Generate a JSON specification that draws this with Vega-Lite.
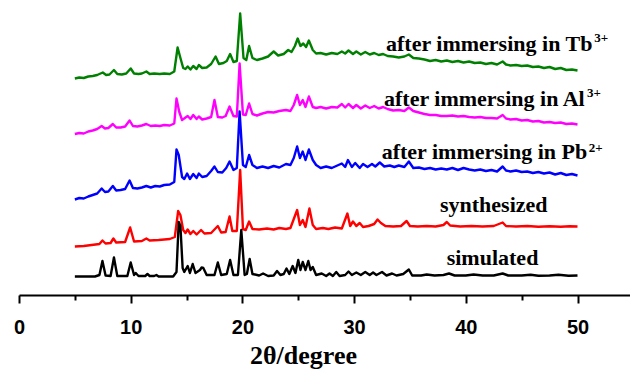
{
"$schema":"https://vega.github.io/schema/vega-lite/v6.json",
"width":611,"height":295,
"autosize":{"type":"none"},
"padding":{"left":19,"top":0,"right":0,"bottom":76},
"background":"white",
"config":{"view":{"stroke":null}},
"title":{"text":"2θ/degree","orient":"bottom","anchor":"middle","font":"Liberation Serif","fontSize":26,"fontWeight":"bold","color":"#000","dx":-21,"offset":6},
"datasets":{
"xrd":[
{"s":"Tb","x":5.0,"y":216.5},{"s":"Tb","x":5.4,"y":217.5},{"s":"Tb","x":5.8,"y":217},{"s":"Tb","x":6.2,"y":218.5},{"s":"Tb","x":6.6,"y":219},{"s":"Tb","x":7.0,"y":220},{"s":"Tb","x":7.5,"y":222.5},{"s":"Tb","x":7.8,"y":220},{"s":"Tb","x":8.1,"y":220.5},{"s":"Tb","x":8.5,"y":225},{"s":"Tb","x":8.8,"y":221},{"s":"Tb","x":9.2,"y":220.5},{"s":"Tb","x":9.6,"y":221.5},{"s":"Tb","x":10.0,"y":226.5},{"s":"Tb","x":10.3,"y":221.5},{"s":"Tb","x":10.7,"y":221},{"s":"Tb","x":11.0,"y":221.5},{"s":"Tb","x":11.4,"y":223.5},{"s":"Tb","x":11.7,"y":221},{"s":"Tb","x":12.1,"y":221.5},{"s":"Tb","x":12.6,"y":221},{"s":"Tb","x":13.0,"y":221.5},{"s":"Tb","x":13.5,"y":221},{"s":"Tb","x":13.9,"y":223.5},{"s":"Tb","x":14.2,"y":247.5},{"s":"Tb","x":14.45,"y":237},{"s":"Tb","x":14.7,"y":227},{"s":"Tb","x":14.9,"y":226},{"s":"Tb","x":15.1,"y":228.5},{"s":"Tb","x":15.35,"y":225.5},{"s":"Tb","x":15.6,"y":229},{"s":"Tb","x":15.9,"y":226},{"s":"Tb","x":16.1,"y":230},{"s":"Tb","x":16.4,"y":227},{"s":"Tb","x":16.8,"y":227.5},{"s":"Tb","x":17.2,"y":231},{"s":"Tb","x":17.6,"y":238.5},{"s":"Tb","x":17.9,"y":231},{"s":"Tb","x":18.3,"y":232},{"s":"Tb","x":18.6,"y":234},{"s":"Tb","x":18.9,"y":241},{"s":"Tb","x":19.2,"y":233},{"s":"Tb","x":19.5,"y":234},{"s":"Tb","x":19.8,"y":281.5},{"s":"Tb","x":20.1,"y":237},{"s":"Tb","x":20.35,"y":235},{"s":"Tb","x":20.6,"y":249},{"s":"Tb","x":20.9,"y":237},{"s":"Tb","x":21.3,"y":235},{"s":"Tb","x":21.8,"y":236.5},{"s":"Tb","x":22.3,"y":238.5},{"s":"Tb","x":22.8,"y":243.5},{"s":"Tb","x":23.2,"y":239.5},{"s":"Tb","x":23.7,"y":241},{"s":"Tb","x":24.1,"y":245},{"s":"Tb","x":24.4,"y":243},{"s":"Tb","x":24.7,"y":249},{"s":"Tb","x":24.95,"y":256.5},{"s":"Tb","x":25.2,"y":249},{"s":"Tb","x":25.45,"y":251.5},{"s":"Tb","x":25.7,"y":248},{"s":"Tb","x":25.95,"y":254.5},{"s":"Tb","x":26.3,"y":245},{"s":"Tb","x":26.6,"y":241.5},{"s":"Tb","x":27.0,"y":242},{"s":"Tb","x":27.5,"y":240.5},{"s":"Tb","x":28.0,"y":242},{"s":"Tb","x":28.5,"y":241},{"s":"Tb","x":28.9,"y":243.5},{"s":"Tb","x":29.2,"y":241.5},{"s":"Tb","x":29.5,"y":244.5},{"s":"Tb","x":29.9,"y":241},{"s":"Tb","x":30.2,"y":243.5},{"s":"Tb","x":30.6,"y":240.5},{"s":"Tb","x":31.0,"y":243},{"s":"Tb","x":31.4,"y":240.5},{"s":"Tb","x":31.8,"y":242},{"s":"Tb","x":32.2,"y":240},{"s":"Tb","x":32.6,"y":241},{"s":"Tb","x":33.0,"y":239},{"s":"Tb","x":33.5,"y":238.5},{"s":"Tb","x":34.0,"y":237.5},{"s":"Tb","x":34.5,"y":238.5},{"s":"Tb","x":34.9,"y":240.5},{"s":"Tb","x":35.3,"y":237},{"s":"Tb","x":35.8,"y":236.5},{"s":"Tb","x":36.3,"y":235.5},{"s":"Tb","x":36.8,"y":234},{"s":"Tb","x":37.3,"y":235},{"s":"Tb","x":37.8,"y":233.5},{"s":"Tb","x":38.3,"y":234.5},{"s":"Tb","x":38.8,"y":233},{"s":"Tb","x":39.3,"y":234},{"s":"Tb","x":39.8,"y":232.5},{"s":"Tb","x":40.3,"y":233.5},{"s":"Tb","x":40.8,"y":232},{"s":"Tb","x":41.3,"y":232.5},{"s":"Tb","x":41.8,"y":231},{"s":"Tb","x":42.3,"y":232},{"s":"Tb","x":42.8,"y":230.5},{"s":"Tb","x":43.3,"y":233.5},{"s":"Tb","x":43.6,"y":230.5},{"s":"Tb","x":44.0,"y":229.5},{"s":"Tb","x":44.5,"y":230},{"s":"Tb","x":45.0,"y":229},{"s":"Tb","x":45.5,"y":229.5},{"s":"Tb","x":46.0,"y":228},{"s":"Tb","x":46.5,"y":228.5},{"s":"Tb","x":47.0,"y":227},{"s":"Tb","x":47.5,"y":228},{"s":"Tb","x":48.0,"y":226},{"s":"Tb","x":48.5,"y":227},{"s":"Tb","x":49.0,"y":225},{"s":"Tb","x":49.5,"y":225.5},{"s":"Tb","x":50.0,"y":224.5},
{"s":"Al","x":5.0,"y":161},{"s":"Al","x":5.4,"y":162},{"s":"Al","x":5.8,"y":161.5},{"s":"Al","x":6.2,"y":163.5},{"s":"Al","x":6.6,"y":164.5},{"s":"Al","x":7.0,"y":166},{"s":"Al","x":7.4,"y":169},{"s":"Al","x":7.7,"y":166.5},{"s":"Al","x":8.0,"y":167},{"s":"Al","x":8.4,"y":171},{"s":"Al","x":8.7,"y":167.5},{"s":"Al","x":9.1,"y":167.5},{"s":"Al","x":9.5,"y":168.5},{"s":"Al","x":9.9,"y":174.5},{"s":"Al","x":10.2,"y":169},{"s":"Al","x":10.6,"y":168.5},{"s":"Al","x":11.0,"y":169.5},{"s":"Al","x":11.4,"y":171},{"s":"Al","x":11.8,"y":169},{"s":"Al","x":12.2,"y":169.5},{"s":"Al","x":12.6,"y":169},{"s":"Al","x":13.0,"y":170},{"s":"Al","x":13.5,"y":169.5},{"s":"Al","x":13.9,"y":171.5},{"s":"Al","x":14.1,"y":196.5},{"s":"Al","x":14.35,"y":183},{"s":"Al","x":14.6,"y":175},{"s":"Al","x":14.85,"y":177},{"s":"Al","x":15.1,"y":179},{"s":"Al","x":15.35,"y":176},{"s":"Al","x":15.6,"y":180},{"s":"Al","x":15.9,"y":176},{"s":"Al","x":16.1,"y":178.5},{"s":"Al","x":16.4,"y":175.5},{"s":"Al","x":16.8,"y":176.5},{"s":"Al","x":17.2,"y":178},{"s":"Al","x":17.5,"y":195},{"s":"Al","x":17.8,"y":178},{"s":"Al","x":18.2,"y":177.5},{"s":"Al","x":18.5,"y":179},{"s":"Al","x":18.85,"y":188.5},{"s":"Al","x":19.2,"y":179},{"s":"Al","x":19.5,"y":178.5},{"s":"Al","x":19.75,"y":231.5},{"s":"Al","x":20.05,"y":180.5},{"s":"Al","x":20.3,"y":180},{"s":"Al","x":20.6,"y":191.5},{"s":"Al","x":20.9,"y":181},{"s":"Al","x":21.3,"y":179.5},{"s":"Al","x":21.8,"y":181.5},{"s":"Al","x":22.3,"y":183},{"s":"Al","x":22.8,"y":182.5},{"s":"Al","x":23.3,"y":184},{"s":"Al","x":23.9,"y":185},{"s":"Al","x":24.3,"y":184},{"s":"Al","x":24.6,"y":190},{"s":"Al","x":24.9,"y":200},{"s":"Al","x":25.15,"y":190},{"s":"Al","x":25.4,"y":195},{"s":"Al","x":25.65,"y":188},{"s":"Al","x":25.95,"y":198.5},{"s":"Al","x":26.3,"y":188},{"s":"Al","x":26.6,"y":187},{"s":"Al","x":27.0,"y":188},{"s":"Al","x":27.5,"y":186.5},{"s":"Al","x":28.0,"y":188},{"s":"Al","x":28.5,"y":187.5},{"s":"Al","x":28.9,"y":191},{"s":"Al","x":29.2,"y":187.5},{"s":"Al","x":29.5,"y":191},{"s":"Al","x":29.9,"y":187},{"s":"Al","x":30.2,"y":190},{"s":"Al","x":30.6,"y":186.5},{"s":"Al","x":31.0,"y":189.5},{"s":"Al","x":31.4,"y":187},{"s":"Al","x":31.8,"y":189},{"s":"Al","x":32.2,"y":186.5},{"s":"Al","x":32.6,"y":188},{"s":"Al","x":33.0,"y":186},{"s":"Al","x":33.5,"y":184.5},{"s":"Al","x":34.0,"y":185},{"s":"Al","x":34.5,"y":184},{"s":"Al","x":34.9,"y":187.5},{"s":"Al","x":35.3,"y":184},{"s":"Al","x":35.8,"y":182.5},{"s":"Al","x":36.3,"y":181},{"s":"Al","x":36.8,"y":180},{"s":"Al","x":37.3,"y":180},{"s":"Al","x":37.8,"y":179},{"s":"Al","x":38.3,"y":179},{"s":"Al","x":38.8,"y":179.5},{"s":"Al","x":39.3,"y":178.5},{"s":"Al","x":39.8,"y":179},{"s":"Al","x":40.3,"y":178},{"s":"Al","x":40.8,"y":177.5},{"s":"Al","x":41.3,"y":178},{"s":"Al","x":41.8,"y":177},{"s":"Al","x":42.3,"y":177},{"s":"Al","x":42.8,"y":176.5},{"s":"Al","x":43.3,"y":180},{"s":"Al","x":43.6,"y":176.5},{"s":"Al","x":44.0,"y":175.5},{"s":"Al","x":44.5,"y":176},{"s":"Al","x":45.0,"y":174.5},{"s":"Al","x":45.5,"y":175},{"s":"Al","x":46.0,"y":173.5},{"s":"Al","x":46.5,"y":174},{"s":"Al","x":47.0,"y":172.5},{"s":"Al","x":47.5,"y":173},{"s":"Al","x":48.0,"y":172},{"s":"Al","x":48.5,"y":172.5},{"s":"Al","x":49.0,"y":171},{"s":"Al","x":49.5,"y":171.5},{"s":"Al","x":50.0,"y":170.5},
{"s":"Pb","x":5.0,"y":95.5},{"s":"Pb","x":5.4,"y":97},{"s":"Pb","x":5.8,"y":96.5},{"s":"Pb","x":6.2,"y":98.5},{"s":"Pb","x":6.6,"y":100},{"s":"Pb","x":7.0,"y":101.5},{"s":"Pb","x":7.4,"y":106.5},{"s":"Pb","x":7.7,"y":103},{"s":"Pb","x":8.0,"y":103.5},{"s":"Pb","x":8.4,"y":109},{"s":"Pb","x":8.7,"y":104.5},{"s":"Pb","x":9.1,"y":105},{"s":"Pb","x":9.5,"y":106},{"s":"Pb","x":9.9,"y":114.5},{"s":"Pb","x":10.2,"y":107},{"s":"Pb","x":10.6,"y":106.5},{"s":"Pb","x":11.0,"y":107.5},{"s":"Pb","x":11.4,"y":109},{"s":"Pb","x":11.8,"y":107.5},{"s":"Pb","x":12.2,"y":109},{"s":"Pb","x":12.6,"y":108.5},{"s":"Pb","x":13.0,"y":110},{"s":"Pb","x":13.5,"y":110.5},{"s":"Pb","x":13.9,"y":113},{"s":"Pb","x":14.1,"y":145.5},{"s":"Pb","x":14.3,"y":140},{"s":"Pb","x":14.6,"y":118},{"s":"Pb","x":14.8,"y":116},{"s":"Pb","x":15.05,"y":121.5},{"s":"Pb","x":15.3,"y":116},{"s":"Pb","x":15.6,"y":121},{"s":"Pb","x":15.9,"y":117},{"s":"Pb","x":16.1,"y":121.5},{"s":"Pb","x":16.4,"y":118},{"s":"Pb","x":16.8,"y":119},{"s":"Pb","x":17.2,"y":124},{"s":"Pb","x":17.5,"y":128.5},{"s":"Pb","x":17.8,"y":123},{"s":"Pb","x":18.2,"y":122.5},{"s":"Pb","x":18.55,"y":127},{"s":"Pb","x":18.85,"y":133.5},{"s":"Pb","x":19.2,"y":125},{"s":"Pb","x":19.5,"y":127},{"s":"Pb","x":19.75,"y":183.5},{"s":"Pb","x":20.05,"y":130},{"s":"Pb","x":20.3,"y":128},{"s":"Pb","x":20.6,"y":140},{"s":"Pb","x":20.9,"y":130},{"s":"Pb","x":21.3,"y":127},{"s":"Pb","x":21.8,"y":128.5},{"s":"Pb","x":22.3,"y":127},{"s":"Pb","x":22.8,"y":129},{"s":"Pb","x":23.3,"y":127.5},{"s":"Pb","x":23.9,"y":131},{"s":"Pb","x":24.3,"y":130},{"s":"Pb","x":24.6,"y":137},{"s":"Pb","x":24.9,"y":148.5},{"s":"Pb","x":25.15,"y":137},{"s":"Pb","x":25.4,"y":143.5},{"s":"Pb","x":25.65,"y":135},{"s":"Pb","x":25.95,"y":145.5},{"s":"Pb","x":26.3,"y":135},{"s":"Pb","x":26.6,"y":130},{"s":"Pb","x":27.0,"y":127},{"s":"Pb","x":27.5,"y":128.5},{"s":"Pb","x":28.0,"y":127},{"s":"Pb","x":28.5,"y":129.5},{"s":"Pb","x":28.9,"y":131.5},{"s":"Pb","x":29.2,"y":128},{"s":"Pb","x":29.45,"y":135},{"s":"Pb","x":29.8,"y":128},{"s":"Pb","x":30.1,"y":132},{"s":"Pb","x":30.5,"y":127},{"s":"Pb","x":30.8,"y":131},{"s":"Pb","x":31.2,"y":128},{"s":"Pb","x":31.6,"y":131},{"s":"Pb","x":31.9,"y":128.5},{"s":"Pb","x":32.3,"y":132.5},{"s":"Pb","x":32.7,"y":128.5},{"s":"Pb","x":33.2,"y":129.5},{"s":"Pb","x":33.6,"y":128},{"s":"Pb","x":34.0,"y":129.5},{"s":"Pb","x":34.5,"y":128},{"s":"Pb","x":34.9,"y":133.5},{"s":"Pb","x":35.3,"y":127},{"s":"Pb","x":35.8,"y":127.5},{"s":"Pb","x":36.3,"y":126},{"s":"Pb","x":36.8,"y":127},{"s":"Pb","x":37.3,"y":125.5},{"s":"Pb","x":37.8,"y":126.5},{"s":"Pb","x":38.3,"y":125.5},{"s":"Pb","x":38.8,"y":127},{"s":"Pb","x":39.3,"y":125},{"s":"Pb","x":39.8,"y":127},{"s":"Pb","x":40.3,"y":125.5},{"s":"Pb","x":40.8,"y":124.5},{"s":"Pb","x":41.3,"y":125.5},{"s":"Pb","x":41.8,"y":124},{"s":"Pb","x":42.3,"y":125},{"s":"Pb","x":42.8,"y":123.5},{"s":"Pb","x":43.3,"y":128.5},{"s":"Pb","x":43.6,"y":124.5},{"s":"Pb","x":44.0,"y":123.5},{"s":"Pb","x":44.5,"y":124.5},{"s":"Pb","x":45.0,"y":123},{"s":"Pb","x":45.5,"y":123.5},{"s":"Pb","x":46.0,"y":122},{"s":"Pb","x":46.5,"y":123},{"s":"Pb","x":47.0,"y":121.5},{"s":"Pb","x":47.5,"y":122.5},{"s":"Pb","x":48.0,"y":120.5},{"s":"Pb","x":48.5,"y":122},{"s":"Pb","x":49.0,"y":120},{"s":"Pb","x":49.5,"y":121},{"s":"Pb","x":50.0,"y":119.5},
{"s":"synthesized","x":5.0,"y":48.5},{"s":"synthesized","x":5.8,"y":49},{"s":"synthesized","x":6.5,"y":50},{"s":"synthesized","x":7.2,"y":51},{"s":"synthesized","x":7.47,"y":54.5},{"s":"synthesized","x":7.75,"y":51.5},{"s":"synthesized","x":8.2,"y":52},{"s":"synthesized","x":8.45,"y":56.5},{"s":"synthesized","x":8.7,"y":52.5},{"s":"synthesized","x":9.5,"y":53},{"s":"synthesized","x":9.95,"y":67.5},{"s":"synthesized","x":10.3,"y":53.5},{"s":"synthesized","x":11.0,"y":54},{"s":"synthesized","x":11.4,"y":56.5},{"s":"synthesized","x":11.7,"y":54.5},{"s":"synthesized","x":12.5,"y":55},{"s":"synthesized","x":13.5,"y":56},{"s":"synthesized","x":13.95,"y":58},{"s":"synthesized","x":14.25,"y":84},{"s":"synthesized","x":14.45,"y":80},{"s":"synthesized","x":14.7,"y":65},{"s":"synthesized","x":14.9,"y":62},{"s":"synthesized","x":15.1,"y":65.5},{"s":"synthesized","x":15.35,"y":61},{"s":"synthesized","x":15.6,"y":64},{"s":"synthesized","x":15.9,"y":60.5},{"s":"synthesized","x":16.3,"y":65},{"s":"synthesized","x":16.6,"y":61.5},{"s":"synthesized","x":17.2,"y":62},{"s":"synthesized","x":17.8,"y":69},{"s":"synthesized","x":18.1,"y":62.5},{"s":"synthesized","x":18.5,"y":63},{"s":"synthesized","x":18.85,"y":78.5},{"s":"synthesized","x":19.1,"y":64},{"s":"synthesized","x":19.5,"y":64},{"s":"synthesized","x":19.8,"y":125},{"s":"synthesized","x":20.05,"y":66},{"s":"synthesized","x":20.3,"y":65},{"s":"synthesized","x":20.6,"y":73.5},{"s":"synthesized","x":20.9,"y":66},{"s":"synthesized","x":21.5,"y":65.5},{"s":"synthesized","x":22.2,"y":66.5},{"s":"synthesized","x":22.8,"y":65.5},{"s":"synthesized","x":23.3,"y":67},{"s":"synthesized","x":23.9,"y":66},{"s":"synthesized","x":24.3,"y":67},{"s":"synthesized","x":24.9,"y":85},{"s":"synthesized","x":25.15,"y":70},{"s":"synthesized","x":25.4,"y":75},{"s":"synthesized","x":25.65,"y":68},{"s":"synthesized","x":26.0,"y":86.5},{"s":"synthesized","x":26.3,"y":70},{"s":"synthesized","x":26.6,"y":66},{"s":"synthesized","x":27.2,"y":67},{"s":"synthesized","x":27.7,"y":66},{"s":"synthesized","x":28.3,"y":67.5},{"s":"synthesized","x":28.9,"y":66.5},{"s":"synthesized","x":29.4,"y":81.5},{"s":"synthesized","x":29.65,"y":69},{"s":"synthesized","x":29.9,"y":73.5},{"s":"synthesized","x":30.2,"y":69},{"s":"synthesized","x":30.5,"y":72},{"s":"synthesized","x":30.8,"y":68},{"s":"synthesized","x":31.3,"y":69},{"s":"synthesized","x":31.8,"y":71},{"s":"synthesized","x":32.1,"y":75.5},{"s":"synthesized","x":32.4,"y":72},{"s":"synthesized","x":32.8,"y":69},{"s":"synthesized","x":33.5,"y":68.5},{"s":"synthesized","x":34.2,"y":69},{"s":"synthesized","x":34.7,"y":74},{"s":"synthesized","x":35.0,"y":69},{"s":"synthesized","x":35.7,"y":68.5},{"s":"synthesized","x":36.5,"y":69},{"s":"synthesized","x":37.3,"y":68.5},{"s":"synthesized","x":38.0,"y":70},{"s":"synthesized","x":38.3,"y":73},{"s":"synthesized","x":38.6,"y":69.5},{"s":"synthesized","x":39.5,"y":68.5},{"s":"synthesized","x":40.5,"y":69},{"s":"synthesized","x":41.5,"y":68.5},{"s":"synthesized","x":42.5,"y":69},{"s":"synthesized","x":43.3,"y":72.5},{"s":"synthesized","x":43.6,"y":69},{"s":"synthesized","x":44.5,"y":68.5},{"s":"synthesized","x":45.5,"y":69},{"s":"synthesized","x":46.5,"y":68.2},{"s":"synthesized","x":47.5,"y":68.8},{"s":"synthesized","x":48.5,"y":68.2},{"s":"synthesized","x":49.3,"y":68.7},{"s":"synthesized","x":50.0,"y":68.5},
{"s":"simulated","x":5.0,"y":18.5},{"s":"simulated","x":6.8,"y":18.5},{"s":"simulated","x":7.2,"y":20},{"s":"simulated","x":7.47,"y":34},{"s":"simulated","x":7.75,"y":19.5},{"s":"simulated","x":8.2,"y":19},{"s":"simulated","x":8.5,"y":37.5},{"s":"simulated","x":8.8,"y":19},{"s":"simulated","x":9.7,"y":19},{"s":"simulated","x":10.0,"y":32.5},{"s":"simulated","x":10.3,"y":20},{"s":"simulated","x":10.45,"y":22},{"s":"simulated","x":10.7,"y":19},{"s":"simulated","x":11.3,"y":19},{"s":"simulated","x":11.5,"y":21},{"s":"simulated","x":11.7,"y":19},{"s":"simulated","x":12.1,"y":19},{"s":"simulated","x":12.3,"y":20},{"s":"simulated","x":12.5,"y":18.5},{"s":"simulated","x":13.8,"y":18.5},{"s":"simulated","x":14.1,"y":23},{"s":"simulated","x":14.3,"y":73},{"s":"simulated","x":14.45,"y":69},{"s":"simulated","x":14.65,"y":27},{"s":"simulated","x":14.8,"y":23},{"s":"simulated","x":15.1,"y":29},{"s":"simulated","x":15.3,"y":22},{"s":"simulated","x":15.55,"y":31},{"s":"simulated","x":15.8,"y":22},{"s":"simulated","x":16.2,"y":25},{"s":"simulated","x":16.35,"y":27.5},{"s":"simulated","x":16.5,"y":27},{"s":"simulated","x":16.8,"y":20},{"s":"simulated","x":17.5,"y":20},{"s":"simulated","x":17.8,"y":32.5},{"s":"simulated","x":18.1,"y":20},{"s":"simulated","x":18.6,"y":21},{"s":"simulated","x":18.9,"y":35},{"s":"simulated","x":19.2,"y":20},{"s":"simulated","x":19.6,"y":20},{"s":"simulated","x":19.9,"y":65},{"s":"simulated","x":20.2,"y":20},{"s":"simulated","x":20.4,"y":21},{"s":"simulated","x":20.65,"y":36},{"s":"simulated","x":20.9,"y":21},{"s":"simulated","x":21.5,"y":19.5},{"s":"simulated","x":21.85,"y":21.5},{"s":"simulated","x":22.3,"y":19},{"s":"simulated","x":22.8,"y":19.5},{"s":"simulated","x":23.1,"y":24},{"s":"simulated","x":23.4,"y":20},{"s":"simulated","x":23.7,"y":21},{"s":"simulated","x":23.95,"y":26.5},{"s":"simulated","x":24.2,"y":21},{"s":"simulated","x":24.5,"y":29},{"s":"simulated","x":24.75,"y":22},{"s":"simulated","x":25.0,"y":35},{"s":"simulated","x":25.2,"y":25},{"s":"simulated","x":25.4,"y":33},{"s":"simulated","x":25.65,"y":25},{"s":"simulated","x":25.9,"y":34},{"s":"simulated","x":26.1,"y":25},{"s":"simulated","x":26.3,"y":28},{"s":"simulated","x":26.6,"y":20},{"s":"simulated","x":27.1,"y":21.5},{"s":"simulated","x":27.5,"y":19},{"s":"simulated","x":27.8,"y":21.5},{"s":"simulated","x":28.1,"y":19},{"s":"simulated","x":28.4,"y":23},{"s":"simulated","x":28.7,"y":19},{"s":"simulated","x":29.2,"y":20},{"s":"simulated","x":29.5,"y":23.5},{"s":"simulated","x":29.8,"y":20},{"s":"simulated","x":30.2,"y":22.5},{"s":"simulated","x":30.6,"y":20},{"s":"simulated","x":31.0,"y":23},{"s":"simulated","x":31.4,"y":20},{"s":"simulated","x":31.7,"y":22.5},{"s":"simulated","x":32.0,"y":20},{"s":"simulated","x":32.5,"y":23},{"s":"simulated","x":32.9,"y":19.5},{"s":"simulated","x":33.4,"y":21.5},{"s":"simulated","x":33.8,"y":19.5},{"s":"simulated","x":34.4,"y":21},{"s":"simulated","x":34.9,"y":25.5},{"s":"simulated","x":35.2,"y":19.5},{"s":"simulated","x":36.0,"y":19.5},{"s":"simulated","x":36.5,"y":20.5},{"s":"simulated","x":37.2,"y":19.5},{"s":"simulated","x":38.0,"y":20},{"s":"simulated","x":38.5,"y":21.5},{"s":"simulated","x":39.0,"y":19.5},{"s":"simulated","x":40.0,"y":19.5},{"s":"simulated","x":40.7,"y":20.5},{"s":"simulated","x":41.5,"y":19.5},{"s":"simulated","x":42.5,"y":19.5},{"s":"simulated","x":43.3,"y":21.5},{"s":"simulated","x":43.8,"y":19.5},{"s":"simulated","x":45.0,"y":19.5},{"s":"simulated","x":45.8,"y":20.2},{"s":"simulated","x":46.5,"y":19.2},{"s":"simulated","x":47.5,"y":19.5},{"s":"simulated","x":48.3,"y":20.2},{"s":"simulated","x":49.2,"y":19.2},{"s":"simulated","x":50.0,"y":19.5}
],
"labels":[
{"x":32.86,"y":244,"t":"after immersing in Tb"},
{"x":32.68,"y":189,"t":"after immersing in Al"},
{"x":32.47,"y":136.5,"t":"after immersing in Pb"},
{"x":37.69,"y":83.3,"t":"synthesized"},
{"x":38.29,"y":30,"t":"simulated"}
],
"sups":[
{"x":51.5,"y":253,"t":"3+"},
{"x":50.85,"y":198.5,"t":"3+"},
{"x":51.0,"y":143.5,"t":"2+"}
]
},
"resolve":{"axis":{"x":"independent"}},
"layer":[
{"data":{"name":"xrd"},
 "mark":{"type":"line","strokeWidth":2.4,"strokeJoin":"round"},
 "encoding":{
  "x":{"field":"x","type":"quantitative","scale":{"domain":[0,54.7],"nice":false,"zero":false},
   "axis":{"orient":"bottom","values":[0,10,20,30,40,50],"grid":false,"domainColor":"#000","domainWidth":2,"tickColor":"#000","tickWidth":2,"tickSize":8,
    "labelFont":"Liberation Sans","labelFontWeight":"bold","labelFontSize":20,"labelColor":"#000","labelPadding":14,"labelFlush":false,"title":null}},
  "y":{"field":"y","type":"quantitative","scale":{"domain":[0,295],"nice":false,"zero":false},"axis":null},
  "color":{"field":"s","type":"nominal","scale":{"domain":["Tb","Al","Pb","synthesized","simulated"],"range":["#008000","#ff00ff","#0000ff","#ff0000","#000000"]},"legend":null}
 }},
{"data":{"name":"labels"},
 "mark":{"type":"text","font":"Liberation Serif","fontWeight":"bold","fontSize":22,"align":"left","baseline":"alphabetic","color":"#000"},
 "encoding":{
  "x":{"field":"x","type":"quantitative","axis":{"orient":"bottom","values":[5,15,25,35,45],"labels":false,"domain":false,"grid":false,"tickColor":"#000","tickWidth":2,"tickSize":5,"title":null}},
  "y":{"field":"y","type":"quantitative"},
  "text":{"field":"t"}
 }},
{"data":{"name":"sups"},
 "mark":{"type":"text","font":"Liberation Serif","fontWeight":"bold","fontSize":13,"align":"left","baseline":"alphabetic","color":"#000"},
 "encoding":{
  "x":{"field":"x","type":"quantitative","axis":null},
  "y":{"field":"y","type":"quantitative"},
  "text":{"field":"t"}
 }}
]
}
